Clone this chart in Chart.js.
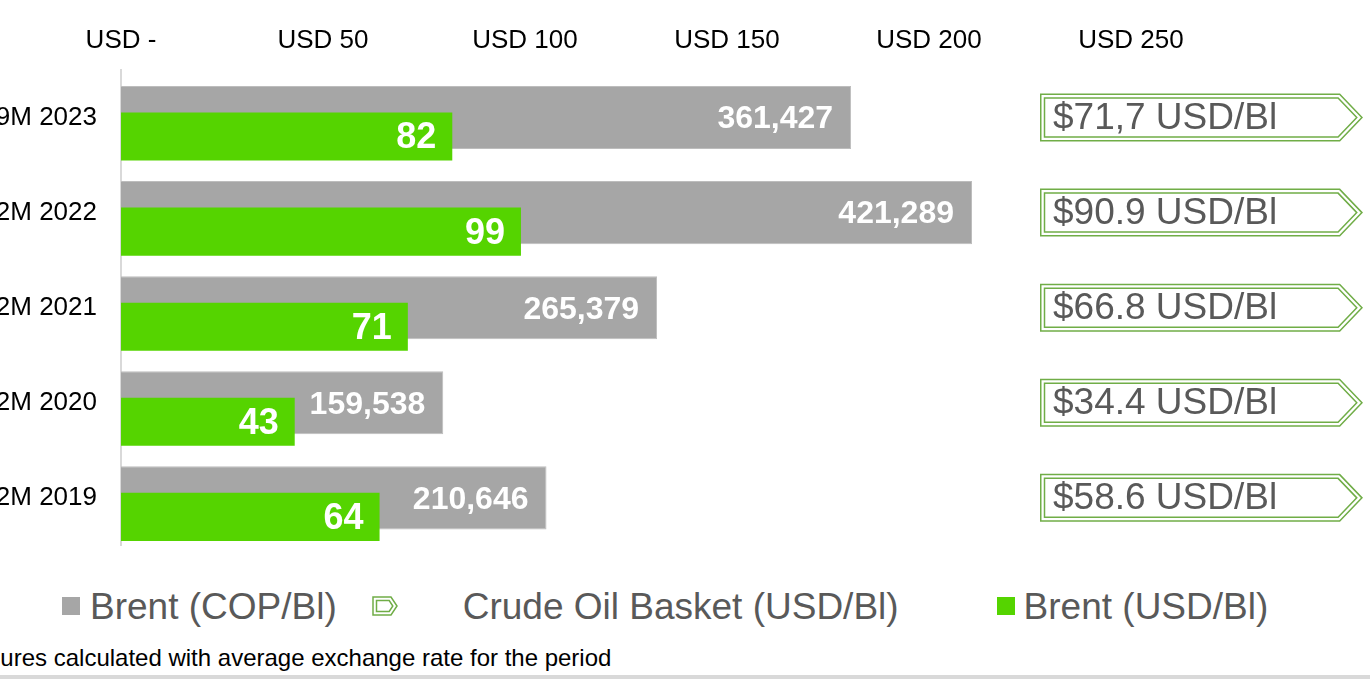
<!DOCTYPE html>
<html lang="en">
<head>
  <meta charset="UTF-8" />
  <title>Brent and Crude Oil Basket prices</title>
  <script src="https://cdn.jsdelivr.net/npm/chart.js"></script>
  <style>
    html, body {
      margin: 0;
      padding: 0;
      background: #fff;
      overflow: hidden;
    }
    body {
      width: 1370px;
      height: 684px;
      position: relative;
      font-family: 'Liberation Sans', Arial, sans-serif;
    }
    .chart-wrap {
      position: absolute;
      left: -30px;
      top: 0;
      width: 1400px;
      height: 585px;
    }
    .legend {
      position: absolute;
      left: 62px;
      top: 586px;
      height: 40px;
      display: flex;
      align-items: center;
      font-size: 37px;
      line-height: 1;
      color: #595959;
      white-space: nowrap;
    }
    .legend .item { display: flex; align-items: center; }
    .legend .box { width: 18px; height: 18px; margin-right: 10px; }
    .legend .icon { margin-right: 65px; display: block; }
    .legend .item.second { margin-left: 35px; }
    .legend .item.third { margin-left: 98px; }
    .legend .item.third .box { margin-right: 9px; }
    .note {
      position: absolute;
      left: -33px;
      top: 646px;
      font-size: 24px;
      line-height: 1;
      color: #000;
      white-space: nowrap;
    }
    .band {
      position: absolute;
      left: 0;
      right: 0;
      top: 675px;
      height: 4px;
      background: #d9d9d9;
    }
  </style>
</head>
<body>
  <div class="chart-wrap"><canvas id="chart"></canvas></div>
  <div class="legend" id="legend"></div>
  <div class="note">Figures calculated with average exchange rate for the period</div>
  <div class="band"></div>

  <script>
    const periods = ['9M 2023', '12M 2022', '12M 2021', '12M 2020', '12M 2019'];
    const brentCop = [361427, 421289, 265379, 159538, 210646];
    const brentUsd = [82, 99, 71, 43, 64];
    const basketUsd = [71.7, 90.9, 66.8, 34.4, 58.6];
    const basketLabels = ['$71,7 USD/Bl', '$90.9 USD/Bl', '$66.8 USD/Bl', '$34.4 USD/Bl', '$58.6 USD/Bl'];
    const usdTicks = ['USD -', 'USD 50', 'USD 100', 'USD 150', 'USD 200', 'USD 250'];

    const FONT = "'Liberation Sans', Arial, sans-serif";
    const GRAY = '#a6a6a6';
    const GREEN = '#55d400';
    const OUTLINE = '#70ad47';

    Chart.defaults.font.family = FONT;

    // white value labels inside the bar ends
    const barLabels = {
      id: 'barLabels',
      afterDatasetsDraw(chart) {
        const ctx = chart.ctx;
        ctx.save();
        ctx.fillStyle = '#fff';
        ctx.textAlign = 'right';
        ctx.textBaseline = 'middle';
        ctx.font = 'bold 32px ' + FONT;
        chart.getDatasetMeta(0).data.forEach((bar, i) => {
          ctx.fillText(brentCop[i].toLocaleString('en-US'), bar.x - 18, bar.y + 2);
        });
        ctx.font = 'bold 36px ' + FONT;
        chart.getDatasetMeta(2).data.forEach((bar, i) => {
          ctx.fillText(String(Math.round(brentUsd[i])), bar.x - 16, bar.y + 2);
        });
        ctx.restore();
      }
    };

    // arrow shaped callouts for the crude oil basket, one per row
    const callouts = {
      id: 'callouts',
      afterDatasetsDraw(chart) {
        const ctx = chart.ctx;
        const area = chart.chartArea;
        const left = area.right - 91;
        const w = 300, tip = 23, h = 48;
        const sinA = Math.sin(Math.atan((h / 2) / tip));
        ctx.save();
        ctx.strokeStyle = OUTLINE;
        ctx.lineWidth = 1.5;
        chart.getDatasetMeta(0).data.forEach((bar, i) => {
          const top = bar.y - h / 2;
          [0.75, 4.5].forEach(d => {
            const s = d / sinA;
            const cx = left + w + tip * (d / (h / 2)) - s;
            ctx.beginPath();
            ctx.moveTo(left + d, top + d);
            ctx.lineTo(cx, top + d);
            ctx.lineTo(left + w + tip - s, bar.y);
            ctx.lineTo(cx, top + h - d);
            ctx.lineTo(left + d, top + h - d);
            ctx.closePath();
            ctx.stroke();
          });
          ctx.fillStyle = '#595959';
          ctx.font = '37px ' + FONT;
          ctx.textAlign = 'left';
          ctx.textBaseline = 'middle';
          ctx.fillText(basketLabels[i], left + 13, bar.y + 1);
        });
        ctx.restore();
      }
    };

    const chart = new Chart(document.getElementById('chart'), {
      type: 'bar',
      data: {
        labels: periods,
        datasets: [
          {
            label: 'Brent (COP/Bl)', data: brentCop, xAxisID: 'xCop',
            stack: 'mid', order: 3, backgroundColor: GRAY,
            borderColor: '#bdbdbd', borderWidth: 1,
            categoryPercentage: 0.6, barPercentage: 3.32
          },
          {
            label: 'Crude Oil Basket (USD/Bl)', data: basketUsd, xAxisID: 'xBasket',
            stack: 'top', order: 0, backgroundColor: 'rgba(0,0,0,0)',
            categoryPercentage: 0.6, barPercentage: 1
          },
          {
            label: 'Brent (USD/Bl)', data: brentUsd, xAxisID: 'x',
            stack: 'low', order: 2, backgroundColor: GREEN,
            categoryPercentage: 0.6, barPercentage: 2.53
          },
          // empty set that keeps the gray bars in the middle slot
          {
            label: '', data: [], xAxisID: 'xBasket',
            stack: 'mid', order: 1, categoryPercentage: 0.6
          }
        ]
      },
      options: {
        indexAxis: 'y',
        responsive: true,
        maintainAspectRatio: false,
        animation: false,
        layout: { padding: { left: 0, right: 239, top: 0, bottom: 15 } },
        plugins: {
          legend: { display: false },
          tooltip: { enabled: false }
        },
        scales: {
          x: {
            position: 'top',
            min: 0,
            max: 250,
            grid: { display: false, drawTicks: false },
            border: { display: false },
            ticks: {
              stepSize: 50,
              padding: 14,
              maxRotation: 0,
              autoSkip: false,
              color: '#000',
              font: { size: 26 },
              callback: (v, i) => usdTicks[i]
            },
            afterFit(scale) { scale.height = 70; }
          },
          xCop: { display: false, min: 0, max: 500000 },
          xBasket: { display: false, min: 0, max: 100 },
          y: {
            grid: { display: false, drawTicks: false },
            border: { display: true, color: '#d9d9d9', width: 2 },
            ticks: { padding: 24, color: '#000', font: { size: 26 } },
            afterFit(scale) { scale.width = 151; }
          }
        }
      },
      plugins: [barLabels, callouts]
    });

    // legend built from the chart datasets
    const legendEl = document.getElementById('legend');
    const classes = ['first', 'second', 'third'];
    [0, 1, 2].forEach((di, k) => {
      const ds = chart.data.datasets[di];
      const item = document.createElement('div');
      item.className = 'item ' + classes[k];
      if (di === 1) {
        item.innerHTML = '<svg class="icon" width="26" height="20" viewBox="0 0 26 20">' +
          '<path d="M1,1 H19 L25,10 L19,19 H1 Z" fill="none" stroke="' + OUTLINE + '" stroke-width="1.5"/>' +
          '<path d="M4.5,4.5 H17.2 L20.8,10 L17.2,15.5 H4.5 Z" fill="none" stroke="' + OUTLINE + '" stroke-width="1.5"/>' +
          '</svg>';
      } else {
        const box = document.createElement('span');
        box.className = 'box';
        box.style.background = ds.backgroundColor;
        item.appendChild(box);
      }
      const text = document.createElement('span');
      text.textContent = ds.label;
      item.appendChild(text);
      legendEl.appendChild(item);
    });
  </script>
</body>
</html>
